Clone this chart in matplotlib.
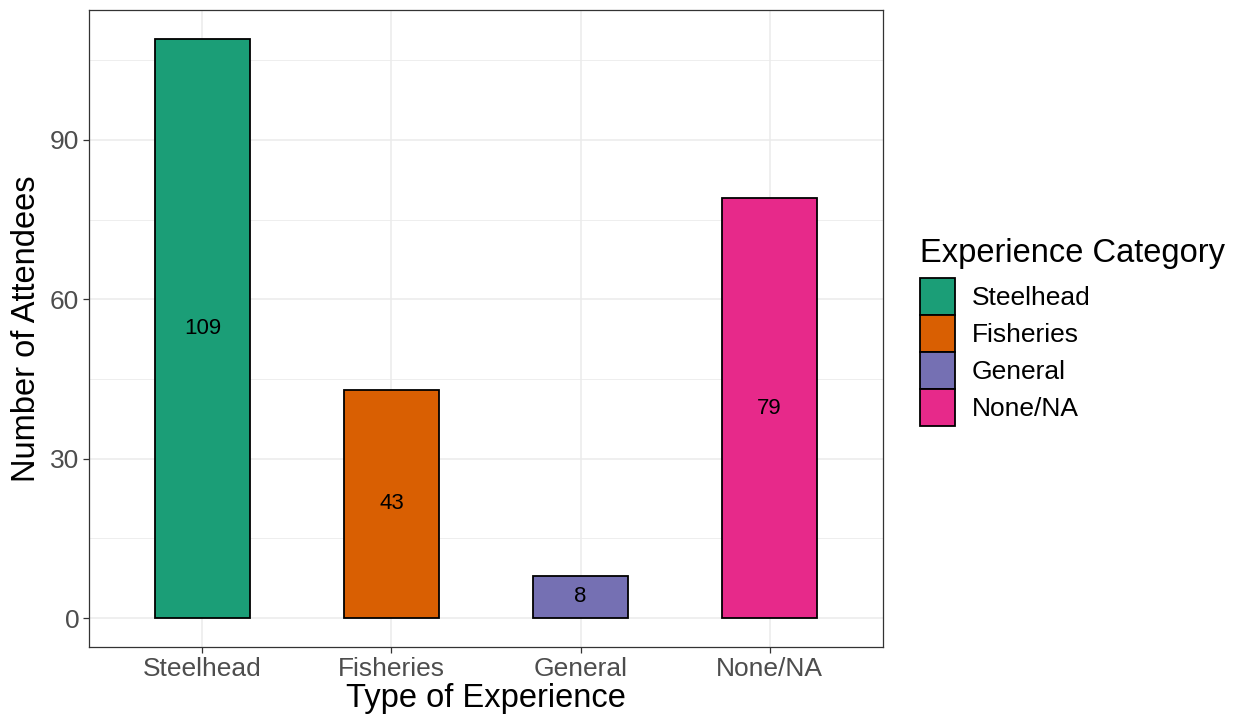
import matplotlib
matplotlib.use("Agg")
import matplotlib.pyplot as plt
from matplotlib.patches import Patch

plt.rcParams['font.family'] = ['Liberation Sans', 'DejaVu Sans']

# data
categories = ["Steelhead", "Fisheries", "General", "None/NA"]
counts = [109, 43, 8, 79]
colors = ["#1B9E77", "#D95F02", "#7570B3", "#E7298A"]
y_ticks = [0, 30, 60, 90]

W, H = 1238, 719
fig = plt.figure(figsize=(W / 100, H / 100), dpi=100)
# panel box in pixels: left 89, right 883, top 10, bottom 647
ax = fig.add_axes([89 / W, 1 - 647 / H, (883 - 89) / W, (647 - 10) / H])

x = list(range(1, len(categories) + 1))
ax.bar(x, counts, width=0.5, color=colors, edgecolor="black", linewidth=1.3, zorder=3)
for xi, c in zip(x, counts):
    ax.text(xi, c / 2, str(c), ha="center", va="center", fontsize=16, zorder=4)

ax.set_xlim(0.4, 4.6)
ax.set_ylim(-5.45, 114.45)
ax.set_xticks(x)
ax.set_xticklabels(categories)
ax.set_yticks(y_ticks)
ax.set_yticks([15, 45, 75, 105], minor=True)
ax.grid(which="major", color="#EBEBEB", linewidth=1.1, zorder=0)
ax.grid(which="minor", color="#EBEBEB", linewidth=0.6, zorder=0)
ax.tick_params(axis="both", which="major", labelsize=19, labelcolor="#4D4D4D",
               color="#333333", length=4, width=0.9, pad=3)
ax.tick_params(axis="both", which="minor", length=0)
for s in ax.spines.values():
    s.set_color("#333333")
    s.set_linewidth(0.9)

ax.set_xlabel("Type of Experience", fontsize=23.5, labelpad=2)
ax.set_ylabel("Number of Attendees", fontsize=23.5, labelpad=6)

# legend title drawn separately so the gap above the keys can be set
fig.text(920 / W, 1 - 262 / H, "Experience Category", fontsize=23.5,
         ha="left", va="baseline")

# legend keys sit edge to edge, as in ggplot
handles = [Patch(facecolor=c, edgecolor="black", linewidth=1.3, label=l)
           for c, l in zip(colors, categories)]
leg = fig.legend(handles=handles, loc="upper left",
                 bbox_to_anchor=(920 / W, 1 - 278 / H), frameon=False,
                 borderpad=0, borderaxespad=0,
                 fontsize=19, handlelength=1.33, handleheight=1.78,
                 handletextpad=0.64, labelspacing=0.0)

fig.savefig("out.png", dpi=100)
